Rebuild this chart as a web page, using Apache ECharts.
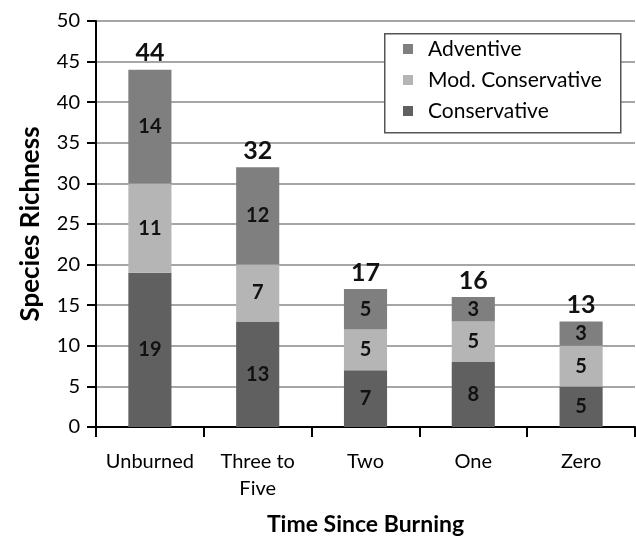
<!DOCTYPE html>
<html>
<head>
<meta charset="utf-8">
<script src="https://cdn.jsdelivr.net/npm/echarts@6/dist/echarts.min.js"></script>
<style>
  html, body { margin: 0; padding: 0; background: #fff; }
  #chart { width: 636px; height: 541px; }
</style>
</head>
<body>
<div id="chart"></div>
<script>
// Species richness by time since burning, split by conservatism class
const categories = ['Unburned', 'Three to\nFive', 'Two', 'One', 'Zero'];
const conservative = [19, 13, 7, 8, 5];
const modConservative = [11, 7, 5, 5, 5];
const adventive = [14, 12, 5, 3, 3];
const totals = [44, 32, 17, 16, 13];
const yTicks = { min: 0, max: 50, interval: 5 };

const FONT = 'Lato, "Open Sans", sans-serif';
const colors = {
  Conservative: '#606060',
  'Mod. Conservative': '#b5b5b5',
  Adventive: '#7f7f7f'
};

function stackSeries(name, values) {
  return {
    name: name,
    type: 'bar',
    stack: 'richness',
    data: values,
    barWidth: '40%',
    itemStyle: { color: colors[name] },
    label: {
      show: true,
      position: 'inside',
      color: '#111',
      fontFamily: FONT,
      fontWeight: 'bold',
      fontSize: 20
    },
    emphasis: { disabled: true }
  };
}

const chart = echarts.init(document.getElementById('chart'), null, { renderer: 'canvas' });
chart.setOption({
  animation: false,
  backgroundColor: '#fff',
  textStyle: { fontFamily: FONT },
  grid: { left: 96, right: 1, top: 21, bottom: 112 },
  // legend frame
  graphic: [{
    type: 'rect',
    left: 384,
    top: 33,
    z: 50,
    shape: { width: 236, height: 99 },
    style: { fill: '#fff', stroke: '#555', lineWidth: 1.5 }
  }],
  legend: {
    data: ['Adventive', 'Mod. Conservative', 'Conservative'],
    orient: 'vertical',
    left: 403,
    top: 38,
    z: 60,
    padding: 0,
    itemGap: 9,
    itemWidth: 10,
    itemHeight: 10,
    icon: 'rect',
    textStyle: { fontFamily: FONT, fontSize: 21, color: '#000', lineHeight: 22, padding: [0, 0, 0, 10] }
  },
  xAxis: {
    type: 'category',
    data: categories,
    axisLine: { lineStyle: { color: '#000', width: 2 } },
    axisTick: { show: true, length: 10, lineStyle: { color: '#000', width: 2 } },
    axisLabel: { interval: 0, color: '#000', fontSize: 20, fontFamily: FONT, margin: 21, lineHeight: 27 },
    name: 'Time Since Burning',
    nameLocation: 'middle',
    nameGap: 86,
    nameTextStyle: { fontSize: 23, fontWeight: 'bold', color: '#000', fontFamily: FONT }
  },
  yAxis: {
    type: 'value',
    min: yTicks.min,
    max: yTicks.max,
    interval: yTicks.interval,
    axisLine: { show: true, lineStyle: { color: '#000', width: 2 } },
    axisTick: { show: true, length: 9, lineStyle: { color: '#000', width: 2 } },
    axisLabel: { color: '#000', fontSize: 20, fontFamily: FONT, margin: 16 },
    splitLine: { lineStyle: { color: '#a6a6a6', width: 2 } },
    name: 'Species Richness',
    nameLocation: 'middle',
    nameGap: 52,
    nameTextStyle: { fontSize: 26, fontWeight: 'bold', color: '#000', fontFamily: FONT }
  },
  series: [
    stackSeries('Conservative', conservative),
    stackSeries('Mod. Conservative', modConservative),
    stackSeries('Adventive', adventive),
    {
      name: 'Total',
      type: 'scatter',
      data: totals,
      symbolSize: 0,
      silent: true,
      itemStyle: { opacity: 1 },
      label: {
        show: true,
        position: 'top',
        distance: 4,
        color: '#111',
        fontFamily: FONT,
        fontWeight: 'bold',
        fontSize: 25
      }
    }
  ]
});
</script>
</body>
</html>
